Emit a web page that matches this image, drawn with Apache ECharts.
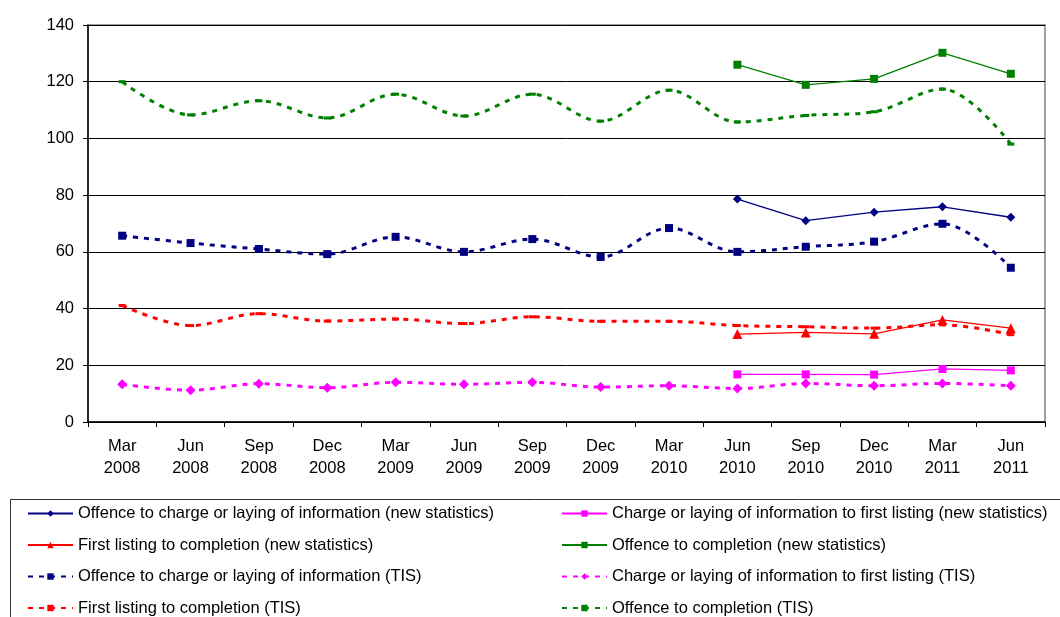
<!DOCTYPE html>
<html>
<head>
<meta charset="utf-8">
<script src="https://cdn.jsdelivr.net/npm/echarts@6/dist/echarts.min.js"></script>
<style>
  html, body { margin: 0; padding: 0; background: #fff; }
  #chart { width: 1060px; height: 617px; }
</style>
</head>
<body>
<div id="chart"></div>
<script>
// Quarter labels
const quarters = ['Mar\n2008', 'Jun\n2008', 'Sep\n2008', 'Dec\n2008', 'Mar\n2009', 'Jun\n2009', 'Sep\n2009',
  'Dec\n2009', 'Mar\n2010', 'Jun\n2010', 'Sep\n2010', 'Dec\n2010', 'Mar\n2011', 'Jun\n2011'];

// New statistics (available from Jun 2010)
const chargeNew    = [null, null, null, null, null, null, null, null, null, 78.6, 71.0, 74.0, 75.9, 72.2];
const listingNew   = [null, null, null, null, null, null, null, null, null, 16.8, 16.8, 16.7, 18.7, 18.2];
const completeNew  = [null, null, null, null, null, null, null, null, null, 31.0, 31.6, 31.1, 36.0, 33.1];
const offenceNew   = [null, null, null, null, null, null, null, null, null, 126.0, 118.9, 121.0, 130.2, 122.8];

// TIS series
const chargeTIS    = [65.7, 63.1, 61.0, 59.2, 65.3, 60.0, 64.5, 58.2, 68.4, 60.0, 61.8, 63.6, 69.9, 54.4];
const listingTIS   = [13.3, 11.2, 13.5, 12.1, 14.0, 13.3, 14.0, 12.3, 12.8, 11.8, 13.6, 12.8, 13.6, 12.8];
const completeTIS  = [41.1, 34.0, 38.2, 35.6, 36.3, 34.7, 37.1, 35.5, 35.5, 34.0, 33.6, 33.1, 34.3, 30.8];
const offenceTIS   = [120.0, 108.3, 113.3, 107.2, 115.6, 107.9, 115.6, 106.1, 117.0, 105.8, 108.1, 109.4, 117.4, 98.0];

const yTicks = [0, 20, 40, 60, 80, 100, 120, 140];

const NAVY = '#000080', MAGENTA = '#FF00FF', RED = '#FF0000', GREEN = '#008000';
const FONT = 'Liberation Sans, Arial, sans-serif';

function solid(name, data, color, symbol, size) {
  return {
    name, type: 'line', data, symbol, symbolSize: size, showSymbol: true,
    connectNulls: false,
    lineStyle: { color, width: 1.3, type: 'solid' },
    itemStyle: { color },
    z: 3
  };
}
function dashed(name, data, color, symbol, size) {
  return {
    name, type: 'line', data, symbol, symbolSize: size, smooth: 0.35,
    lineStyle: { color, width: 3, type: [5, 6] },
    itemStyle: { color },
    z: 2
  };
}

const names = {
  cN: 'Offence to charge or laying of information (new statistics)',
  lN: 'Charge or laying of information to first listing (new statistics)',
  fN: 'First listing to completion (new statistics)',
  oN: 'Offence to completion (new statistics)',
  cT: 'Offence to charge or laying of information (TIS)',
  lT: 'Charge or laying of information to first listing (TIS)',
  fT: 'First listing to completion (TIS)',
  oT: 'Offence to completion (TIS)'
};

const chart = echarts.init(document.getElementById('chart'), null, { renderer: 'canvas' });

const legendCommon = {
  orient: 'vertical', itemWidth: 45, itemHeight: 8, itemGap: 14.5, padding: 0,
  textStyle: { fontFamily: FONT, fontSize: 16.5, color: '#000' },
  selectedMode: false
};

chart.setOption({
  animation: false,
  backgroundColor: '#fff',
  textStyle: { fontFamily: FONT },
  grid: {
    left: 88, right: 15, top: 25, bottom: 195,
    show: true, borderColor: '#808080', borderWidth: 1.5, backgroundColor: 'transparent'
  },
  legend: [
    Object.assign({ left: 27, top: 505, data: [names.cN, names.fN, names.cT, names.fT] }, legendCommon),
    Object.assign({ left: 561, top: 505, data: [names.lN, names.oN, names.lT, names.oT] }, legendCommon)
  ],
  graphic: [{
    type: 'rect', left: 8, top: 497, silent: true,
    shape: { width: 1070, height: 140 },
    style: { fill: 'none', stroke: '#333', lineWidth: 1 }
  }],
  xAxis: {
    type: 'category', data: quarters, boundaryGap: true,
    axisLine: { lineStyle: { color: '#000', width: 1.5 } },
    axisTick: { show: true, length: 5, alignWithLabel: false, lineStyle: { color: '#000' } },
    axisLabel: { color: '#000', fontSize: 16.5, fontFamily: FONT, lineHeight: 22, margin: 13, interval: 0 },
    splitLine: { show: false }
  },
  yAxis: {
    type: 'value', min: yTicks[0], max: yTicks[yTicks.length - 1], interval: 20,
    axisLine: { show: true, lineStyle: { color: '#000', width: 1.5 } },
    axisTick: { show: true, length: 5, lineStyle: { color: '#000' } },
    axisLabel: { color: '#000', fontSize: 16.5, fontFamily: FONT, margin: 14 },
    splitLine: { show: true, lineStyle: { color: '#000', width: 1 } }
  },
  series: [
    dashed(names.cT, chargeTIS, NAVY, 'rect', 8),
    dashed(names.lT, listingTIS, MAGENTA, 'diamond', 10),
    dashed(names.fT, completeTIS, RED, 'rect', [7, 3]),
    dashed(names.oT, offenceTIS, GREEN, 'rect', [7, 3]),
    solid(names.cN, chargeNew, NAVY, 'diamond', 9),
    solid(names.lN, listingNew, MAGENTA, 'rect', 8),
    solid(names.fN, completeNew, RED, 'triangle', 10),
    solid(names.oN, offenceNew, GREEN, 'rect', 8)
  ]
});
</script>
</body>
</html>
